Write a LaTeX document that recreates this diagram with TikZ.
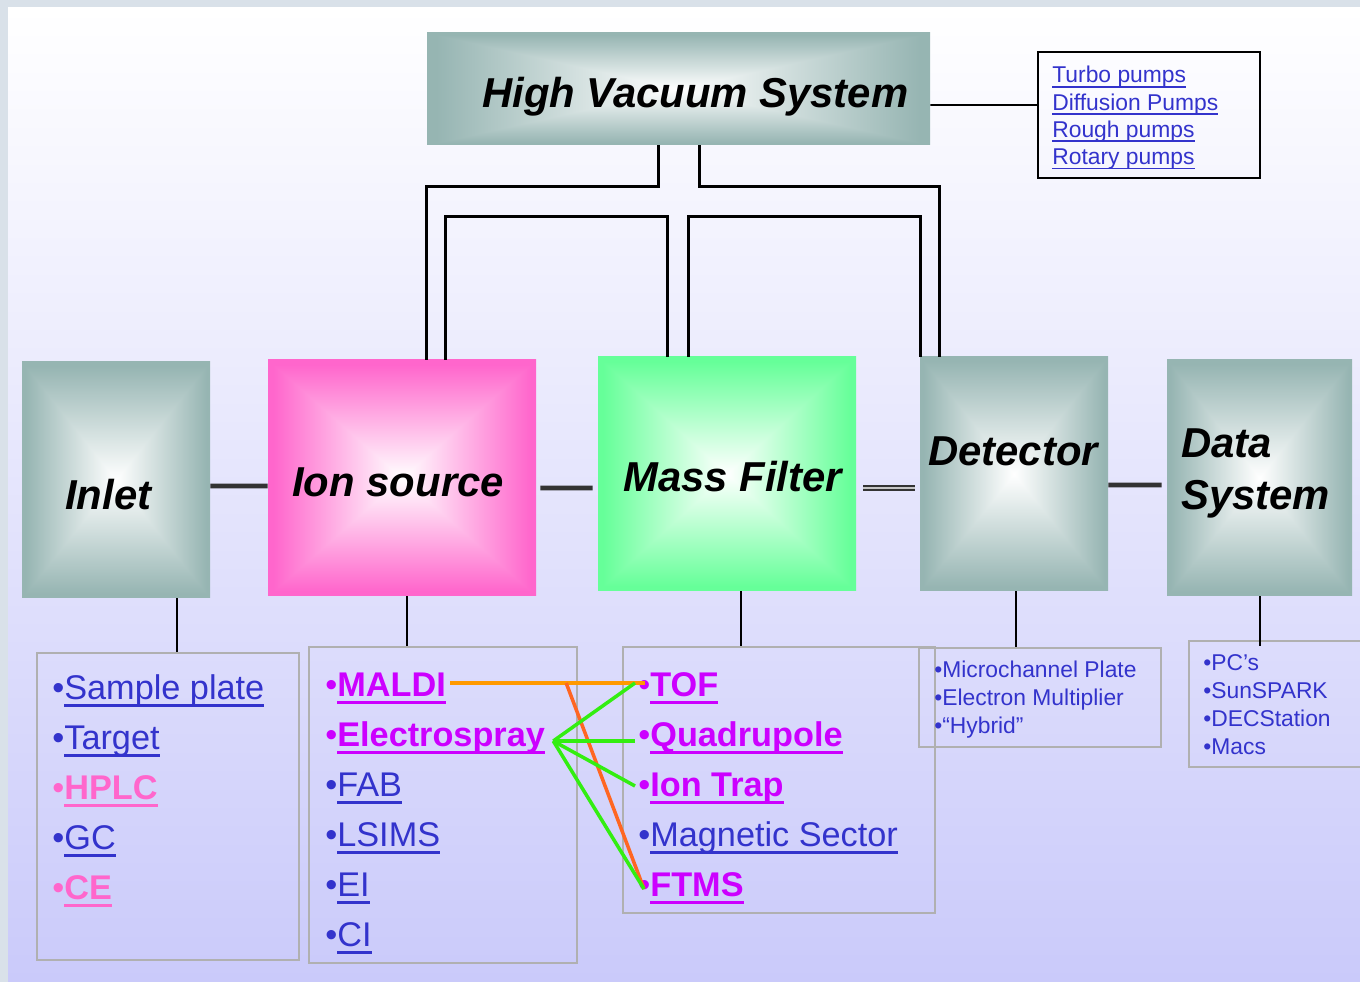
\documentclass[tikz,border=0pt]{standalone}
\usepackage{fontspec}
\setmainfont{Liberation Sans}
\usetikzlibrary{positioning,calc,fit}
\definecolor{frame}{HTML}{D9E1E9}
\definecolor{bglav}{HTML}{CACAFA}
\definecolor{lnkblue}{HTML}{3333CC}
\definecolor{lnkmag}{HTML}{CC00FF}
\definecolor{lnkpink}{HTML}{FF66CC}
\definecolor{linkora}{HTML}{FF9900}
\definecolor{linkred}{HTML}{FF6622}
\definecolor{linkgrn}{HTML}{33EE11}
\definecolor{boxgray}{HTML}{B0B0B0}

% box fill: white in the middle, full colour at the rim
\newcommand{\declareglow}[4]{%
  \pgfdeclarefunctionalshading{#1}{\pgfpoint{-50bp}{-50bp}}{\pgfpoint{50bp}{50bp}}{}{%
    abs exch abs 2 copy lt {exch} if pop
    24 div dup 1 gt {pop 1} if
    dup #2 1 sub mul 1 add
    exch dup #3 1 sub mul 1 add
    exch #4 1 sub mul 1 add}}
\declareglow{tealglow}{0.59}{0.71}{0.70}
\declareglow{pinkglow}{1}{0.4}{0.8}
\declareglow{greenglow}{0.4}{1}{0.6}

% thick underline under a list entry
\newcommand{\lnk}[1]{\setbox0\hbox{#1}\rlap{\rule[-0.2em]{\wd0}{0.085em}}\box0}
\newcommand{\dotmark}{{\mdseries •}}
\newcommand{\bigfont}{\fontsize{23.8}{28}\selectfont\bfseries\itshape}
\newcommand{\listfont}{\fontsize{19.5}{23}\selectfont}
\newcommand{\smallfont}{\fontsize{13}{16}\selectfont}

\begin{document}
\begin{tikzpicture}[x=0.02cm, y=-0.02cm,
    glowbox/.style={inner sep=0pt, draw=none, shade},
    listbox/.style={inner sep=0pt, draw=boxgray, line width=1.1pt},
    title/.style={anchor=base west, inner sep=0pt, font=\bigfont},
    item/.style={anchor=base west, inner sep=0pt},
    bus/.style={line width=2.6pt, draw=black!80},
    vac/.style={line width=1.7pt},
    drop/.style={line width=1.1pt},
    pair/.style={line width=2pt}]
  \useasboundingbox (0,0) rectangle (1360,982);
  \fill[frame] (0,0) rectangle (1360,982);
  \shade[top color=white, bottom color=bglav] (8,8) rectangle (1360,982);

  % main stages
  \node[glowbox, shading=tealglow, fit={(427,33) (930,145)}] (hvs) {};
  \node[glowbox, shading=tealglow, fit={(22,362) (210,598)}] (inlet) {};
  \node[glowbox, shading=pinkglow, fit={(268,360) (536,596)}] (ionsrc) {};
  \node[glowbox, shading=greenglow, fit={(598,357) (856,591)}] (massf) {};
  \node[glowbox, shading=tealglow, fit={(920,357) (1108,591)}] (det) {};
  \node[glowbox, shading=tealglow, fit={(1167,360) (1352,596)}] (data) {};

  \node[title] (hvslbl) at (482,108) {High Vacuum System};
  \node[title] (inletlbl) at (65,510) {Inlet};
  \node[title] (ionlbl) at (292,497) {Ion source};
  \node[title] (masslbl) at (623,492) {Mass Filter};
  \node[title] (detlbl) at (928,466) {Detector};
  \node[title] (datalbl) at (1181,458) {Data};
  \node[title] (syslbl) at (1181,510) {System};

  % boxes holding the lists
  \node[inner sep=0pt, draw=black, line width=1.1pt, fit={(1038,52) (1260,178)}] (pumps) {};
  \node[listbox, fit={(37,653) (299,960)}] (inletlist) {};
  \node[listbox, fit={(309,647) (577,963)}] (ionlist) {};
  \node[listbox, fit={(623,647) (935,913)}] (masslist) {};
  \node[listbox, fit={(919,648) (1161,747)}] (detlist) {};
  \node[listbox, fit={(1189,641) (1372,767)}] (datalist) {};

  % vacuum lines
  \draw[vac] ($(hvs.south)+(-20,0)$) -- ++(0,41) -| ($(ionsrc.north west)+(159,0)$);
  \draw[vac] ($(hvs.south)+(21,0)$) -- ++(0,41) -| ($(det.north west)+(20,0)$);
  \draw[vac] ($(ionsrc.north west)+(178,0)$) -- ++(0,-143) -| ($(massf.north west)+(70,0)$);
  \draw[vac] ($(massf.north west)+(91,0)$) -- ++(0,-140) -| ($(det.north west)+(1,0)$);
  \draw[drop] ([yshift=-0.32cm]hvs.east) -- ([yshift=0.2cm]pumps.west);

  % signal chain
  \draw[bus] ([yshift=-0.12cm]inlet.east) -- ([yshift=-0.16cm]ionsrc.west);
  \draw[bus, shorten <=0.08cm, shorten >=0.1cm] ([yshift=-0.2cm]ionsrc.east) -- ([yshift=-0.28cm]massf.west);
  \draw[line width=1.3pt, draw=black!80, double=gray!45, double distance=0.8pt, shorten <=0.14cm, shorten >=0.1cm]
    ([yshift=-0.28cm]massf.east) -- ([yshift=-0.28cm]det.west);
  \draw[bus, shorten >=0.1cm] ([yshift=-0.22cm]det.east) -- ([yshift=-0.14cm]data.west);

  % drops to the lists
  \draw[drop] (inlet.south -| 177,0) -- (inletlist.north -| 177,0);
  \draw[drop] (ionsrc.south -| 407,0) -- (ionlist.north -| 407,0);
  \draw[drop] (massf.south -| 741,0) -- (masslist.north -| 741,0);
  \draw[drop] (det.south -| 1016,0) -- (detlist.north -| 1016,0);
  \draw[drop] (data.south -| 1260,0) -- ($(datalist.north -| 1260,0)+(0,6)$);

  % list entries
  \foreach \nm/\txt/\c/\w [count=\i from 0] in {splate/Sample plate/lnkblue/\mdseries,
      target/Target/lnkblue/\mdseries, hplc/HPLC/lnkpink/\bfseries,
      gc/GC/lnkblue/\mdseries, ce/CE/lnkpink/\bfseries}
    \node[item, text=\c, font=\listfont\w] (\nm) at (52,700+\i*50) {\dotmark\lnk{\txt}};
  \foreach \nm/\txt/\c/\w [count=\i from 0] in {maldi/MALDI/lnkmag/\bfseries,
      espray/Electrospray/lnkmag/\bfseries, fab/FAB/lnkblue/\mdseries,
      lsims/LSIMS/lnkblue/\mdseries, ei/EI/lnkblue/\mdseries, ci/CI/lnkblue/\mdseries}
    \node[item, text=\c, font=\listfont\w] (\nm) at (325,697+\i*50) {\dotmark\lnk{\txt}};
  \foreach \nm/\txt/\c/\w [count=\i from 0] in {tof/TOF/lnkmag/\bfseries,
      quad/Quadrupole/lnkmag/\bfseries, itrap/Ion Trap/lnkmag/\bfseries,
      msector/Magnetic Sector/lnkblue/\mdseries, ftms/FTMS/lnkmag/\bfseries}
    \node[item, text=\c, font=\listfont\w] (\nm) at (638,697+\i*50) {\dotmark\lnk{\txt}};
  \foreach \nm/\txt [count=\i from 0] in {mcp/Microchannel Plate,
      emult/Electron Multiplier, hybrid/“Hybrid”}
    \node[item, text=lnkblue, font=\smallfont] (\nm) at (934,678+\i*28) {\dotmark\txt};
  \foreach \nm/\txt [count=\i from 0] in {pcs/PC’s, spark/SunSPARK,
      decst/DECStation, macs/Macs}
    \node[item, text=lnkblue, font=\smallfont] (\nm) at (1203,671+\i*28) {\dotmark\txt};
  \foreach \nm/\txt [count=\i from 0] in {turbo/Turbo pumps,
      diffp/Diffusion Pumps, rough/Rough pumps, rotary/Rotary pumps}
    \node[item, text=lnkblue, font=\smallfont] (\nm) at (1052,83+\i*27.3) {\lnk{\txt}};

  % which sources pair with which analysers
  \coordinate (fork) at ($(espray.base east)+(8,-6)$);
  \draw[pair, linkora] ($(maldi.base east)+(4,-14)$) -- ($(tof.base west)+(7,-14)$);
  \draw[pair, linkred] ($(maldi.base east)+(120,-14)$) -- ($(ftms.base west)+(6,-8)$);
  \foreach \dst/\dy in {tof/-14, quad/-6, itrap/-11}
    \draw[pair, linkgrn] (fork) -- ($(\dst.base west)+(-3,\dy)$);
  \draw[pair, linkgrn] (fork) -- ($(ftms.base west)+(6,-8)$);
\end{tikzpicture}
\end{document}
